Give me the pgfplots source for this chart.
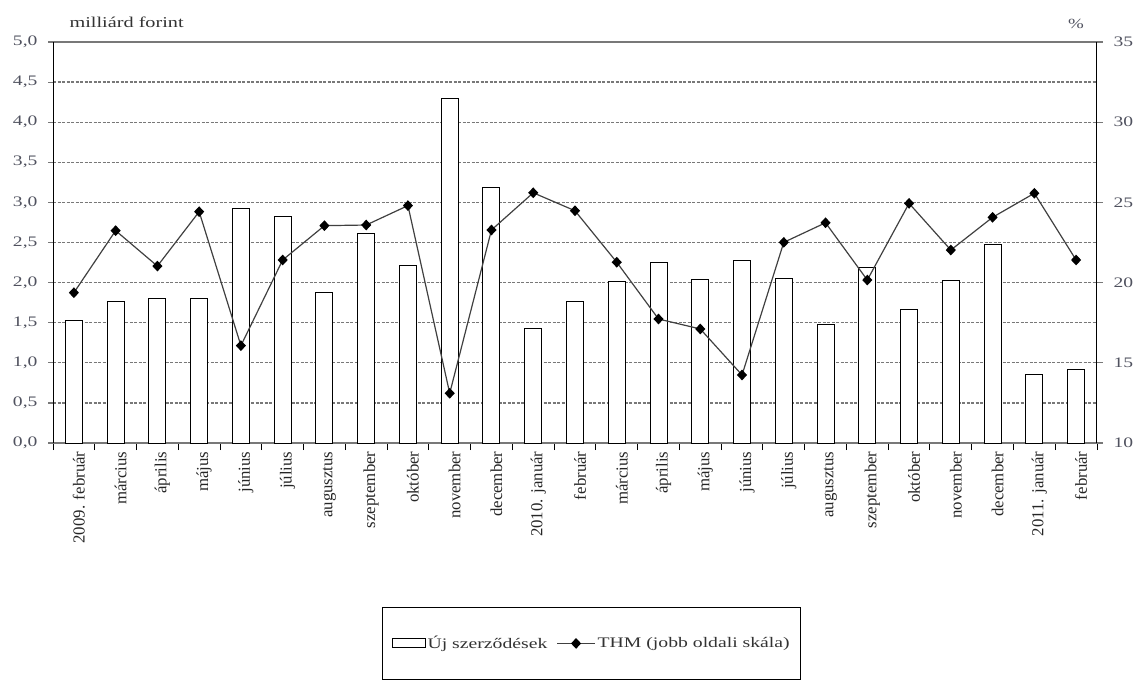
\documentclass[border=0pt]{standalone}
\usepackage{fontspec}
\setmainfont{Liberation Serif}
\newfontfamily\wfont{Liberation Serif}[FakeStretch=1.35]
\usepackage{pgfplots}
\usepackage{pgfplotstable}
\pgfplotsset{compat=1.18}

\definecolor{tickgray}{RGB}{80,82,95}
\definecolor{gridgray}{RGB}{120,120,120}

\pgfplotsset{
  thmlegend/.style={legend image code/.code={%
    \draw[##1, mark repeat=2, mark phase=2] plot coordinates {(0pt,0pt) (19pt,0pt) (38pt,0pt)};}},
  barlegend/.style={legend image code/.code={%
    \draw[draw=black, fill=white, line width=1pt] (0pt,-4.5pt) rectangle (33pt,4.5pt);}},
}

\pgfplotstableread{
idx bar  thm
0   1.53 19.37
1   1.77 23.24
2   1.80 21.03
3   1.80 24.42
4   2.93 16.07
5   2.83 21.41
6   1.88 23.55
7   2.61 23.59
8   2.21 24.80
9   4.30 13.10
10  3.18 23.28
11  1.43 25.60
12  1.76 24.48
13  2.01 21.27
14  2.25 17.73
15  2.04 17.11
16  2.28 14.24
17  2.05 22.51
18  1.48 23.73
19  2.19 20.16
20  1.67 24.94
21  2.02 22.03
22  2.48 24.07
23  0.85 25.57
24  0.92 21.41
}\data

\begin{document}
\begin{tikzpicture}
\path[use as bounding box] (-53pt,-237pt) rectangle (1084pt,443pt);
% bal tengely: uj szerzodesek (oszlopok)
\begin{axis}[
  at={(0pt,0pt)}, anchor=south west,
  scale only axis, width=1044pt, height=401pt,
  xmin=-0.5, xmax=24.5, ymin=0, ymax=5,
  ybar, bar width=17pt, bar shift=0pt,
  xtick={0,...,24},
  xticklabels={2009. február,március,április,május,június,július,augusztus,szeptember,október,november,december,2010. január,február,március,április,május,június,július,augusztus,szeptember,október,november,december,2011. január,február},
  major x tick style={draw=none},
  minor xtick={-0.5,0.5,...,24.5},
  minor x tick style={black, line width=0.9pt},
  minor tick length=7pt,
  xtick pos=bottom, ytick pos=left,
  tick align=outside,
  major tick length=5pt,
  x tick label style={rotate=90, anchor=east, font=\fontsize{16.8}{18}\selectfont, text=black!85, yshift=-5pt},
  ytick={0,0.5,...,5},
  /pgf/number format/use comma,
  /pgf/number format/fixed,
  /pgf/number format/fixed zerofill,
  /pgf/number format/precision=1,
  /pgf/number format/assume math mode=true,
  y tick label style={font=\wfont\fontsize{14.5}{16}\selectfont, text=tickgray, xshift=-7pt},
  y tick style={gridgray, line width=1.2pt},
  ymajorgrids,
  major grid style={gridgray, line width=1.3pt, dash pattern=on 3pt off 1.5pt},
  separate axis lines,
  x axis line style={gridgray, line width=1.6pt},
  y axis line style={black, line width=1pt},
  clip=false,
]
\addplot[draw=black, fill=white, line width=1pt] table[x=idx, y=bar] {\data};
\node[anchor=west, font=\wfont\fontsize{15}{17}\selectfont, text=black!80] at (rel axis cs:0.0125,1.05) {milliárd forint};
\node[font=\wfont\fontsize{14}{16}\selectfont, text=tickgray] at (rel axis cs:0.98,1.045) {\%};
\end{axis}
% jobb tengely: THM
\begin{axis}[
  at={(0pt,0pt)}, anchor=south west,
  scale only axis, width=1044pt, height=401pt,
  xmin=-0.5, xmax=24.5, ymin=10, ymax=35,
  hide x axis,
  axis y line*=right,
  y axis line style={-, black, line width=1pt},
  ytick={10,15,...,35},
  tick align=outside, major tick length=6pt,
  y tick style={gridgray, line width=1.2pt},
  /pgf/number format/assume math mode=true,
  y tick label style={font=\wfont\fontsize{14.5}{16}\selectfont, text=tickgray, xshift=7pt},
  legend style={at={(0.516,-0.409)}, anchor=north, draw=black, line width=0.8pt,
    inner xsep=9pt, inner ysep=27pt, legend columns=2,
    font=\wfont\fontsize{14.6}{16}\selectfont, text=black!80,
    /tikz/every even column/.append style={column sep=7pt}},
  legend cell align=left,
]
\addlegendimage{barlegend}
\addlegendentry{Új szerződések}
\addplot[black!75, line width=1.2pt, mark=diamond*, mark size=4.5pt,
  mark options={xscale=1.25, fill=black, draw=black}, thmlegend]
  table[x=idx, y=thm] {\data};
\addlegendentry{THM (jobb oldali skála)}
\end{axis}
\end{tikzpicture}
\end{document}
